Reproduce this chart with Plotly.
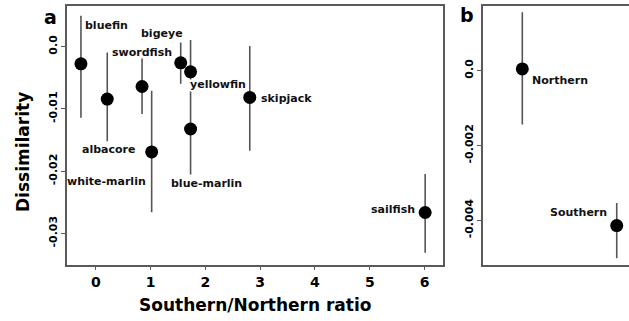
import plotly.graph_objects as go

# ---- data: panel a ----
species = ["bluefin", "albacore", "swordfish", "white-marlin", "bigeye",
           "yellowfin", "blue-marlin", "skipjack", "sailfish"]
ratio = [-0.27, 0.21, 0.845, 1.02, 1.55, 1.73, 1.73, 2.81, 6.01]
diss = [-0.00277, -0.00843, -0.00641, -0.01692, -0.00261,
        -0.00405, -0.01324, -0.00817, -0.02665]
upper = [0.00497, -0.00096, -0.00192, -0.0071, 0.00064,
         0.00107, -0.0072, 0.0001, -0.02045]
lower = [-0.01143, -0.01522, -0.01083, -0.0266, -0.00598,
         -0.0053, -0.02056, -0.01671, -0.03311]

# ---- data: panel b ----
regions = ["Northern", "Southern"]
reg_x = [1, 2]
reg_diss = [0.000045, -0.00414]
reg_upper = [0.00156, -0.00354]
reg_lower = [-0.00144, -0.00501]

# tick labels
xa_ticks = [0, 1, 2, 3, 4, 5, 6]
ya_ticks = [0.0, -0.01, -0.02, -0.03]
ya_text = ["0.0", "-0.01", "-0.02", "-0.03"]
yb_ticks = [0.0, -0.002, -0.004]
yb_text = ["0.0", "-0.002", "-0.004"]

# label placement (pixel offsets from point, anchor)
lab_a = {
    "bluefin": (2.5, -38.3, "left"),
    "albacore": (1.6, 50.7, "center"),
    "swordfish": (0, -34, "center"),
    "white-marlin": (-3.7, 30, "right"),
    "bigeye": (4.3, -29.7, "right"),
    "yellowfin": (-2.7, 12.3, "left"),
    "blue-marlin": (-21.7, 54, "left"),
    "skipjack": (9.3, 1.3, "left"),
    "sailfish": (-8.6, -3, "right"),
}
lab_b = {
    "Northern": (7.7, 11.7, "left"),
    "Southern": (-7.4, -12.7, "right"),
}

W, H = 629, 321
FONT = "DejaVu Sans"
LINE = "#5a5a5a"
BAR = "#555555"


def err(vals, up, lo):
    return dict(type="data", symmetric=False,
                array=[u - v for u, v in zip(up, vals)],
                arrayminus=[v - l for v, l in zip(vals, lo)],
                color=BAR, thickness=1.6, width=0)


fig = go.Figure()
fig.add_trace(go.Scatter(
    x=ratio, y=diss, mode="markers", xaxis="x", yaxis="y",
    marker=dict(color="black", size=13),
    error_y=err(diss, upper, lower), showlegend=False, hoverinfo="skip"))
fig.add_trace(go.Scatter(
    x=reg_x, y=reg_diss, mode="markers", xaxis="x2", yaxis="y2",
    marker=dict(color="black", size=13),
    error_y=err(reg_diss, reg_upper, reg_lower), showlegend=False,
    hoverinfo="skip"))

ann = []
for name, xv, yv in zip(species, ratio, diss):
    dx, dy, anc = lab_a[name]
    ann.append(dict(x=xv, y=yv, xref="x", yref="y", text=name,
                    showarrow=False, xanchor=anc, yanchor="middle",
                    xshift=dx, yshift=-dy,
                    font=dict(family=FONT, size=11, color="#111", weight="bold")))
for name, xv, yv in zip(regions, reg_x, reg_diss):
    dx, dy, anc = lab_b[name]
    ann.append(dict(x=xv, y=yv, xref="x2", yref="y2", text=name,
                    showarrow=False, xanchor=anc, yanchor="middle",
                    xshift=dx, yshift=-dy,
                    font=dict(family=FONT, size=11, color="#111", weight="bold")))

# panel letters and axis titles
ann.append(dict(x=50 / W, y=1 - 17 / H, xref="paper", yref="paper", text="a",
                showarrow=False, xanchor="center", yanchor="middle",
                font=dict(family=FONT, size=19, color="black", weight="bold")))
ann.append(dict(x=467 / W, y=1 - 15 / H, xref="paper", yref="paper", text="b",
                showarrow=False, xanchor="center", yanchor="middle",
                font=dict(family=FONT, size=19, color="black", weight="bold")))
ann.append(dict(x=254.7 / W, y=1 - 305 / H, xref="paper", yref="paper",
                text="Southern/Northern ratio", showarrow=False,
                xanchor="center", yanchor="middle",
                font=dict(family=FONT, size=17, color="black", weight="bold")))
ann.append(dict(x=22.5 / W, y=1 - 152.5 / H, xref="paper", yref="paper",
                text="Dissimilarity", showarrow=False, textangle=-90,
                xanchor="center", yanchor="middle",
                font=dict(family=FONT, size=17, color="black", weight="bold")))

axis_common = dict(showgrid=False, zeroline=False, showline=True,
                   linecolor=LINE, linewidth=1.5, ticks="outside",
                   ticklen=4, tickcolor=LINE, tickwidth=1)

fig.update_layout(
    width=W, height=H, margin=dict(l=0, r=0, t=0, b=0),
    paper_bgcolor="white", plot_bgcolor="white",
    xaxis=dict(domain=[66.7 / W, 442.7 / W], range=[-0.53, 6.33],
               tickvals=xa_ticks, mirror=True, anchor="y",
               tickfont=dict(family=FONT, size=14, color="black", weight="bold"),
               **axis_common),
    yaxis=dict(domain=[1 - 264.5 / H, 1 - 6 / H], range=[-0.0350, 0.00652],
               tickvals=ya_ticks, ticktext=ya_text, tickangle=-90,
               mirror=True, anchor="x",
               tickfont=dict(family=FONT, size=11, color="black", weight="bold"),
               **axis_common),
    xaxis2=dict(domain=[482.7 / W, 1.0], range=[0.5805, 2.130],
                showticklabels=False, mirror=True, anchor="y2",
                showgrid=False, zeroline=False, showline=True,
                linecolor=LINE, linewidth=1.5, ticks=""),
    yaxis2=dict(domain=[1 - 264.5 / H, 1 - 6 / H], range=[-0.00518, 0.001725],
                tickvals=yb_ticks, ticktext=yb_text, tickangle=-90,
                anchor="x2",
                tickfont=dict(family=FONT, size=11, color="black", weight="bold"),
                **axis_common),
    annotations=ann,
)

fig.write_html("out.html")
